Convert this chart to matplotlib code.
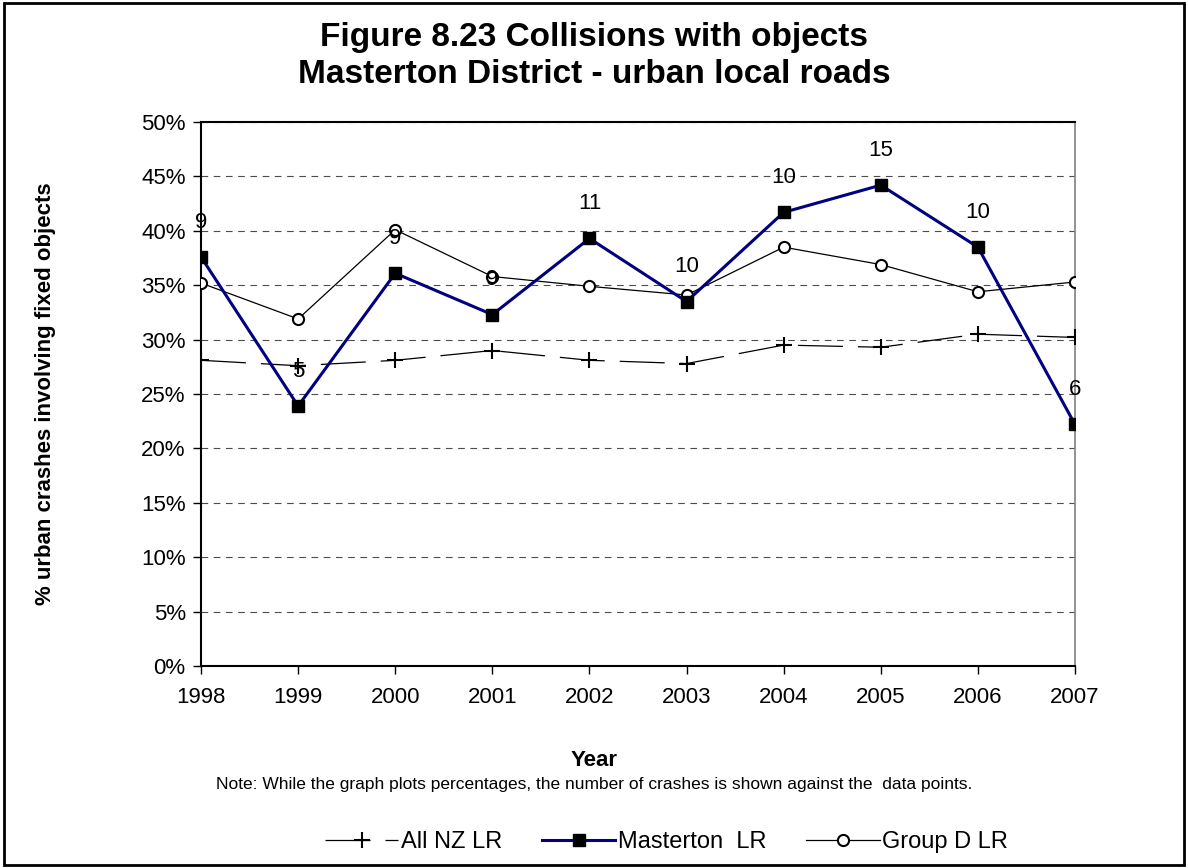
import matplotlib
matplotlib.use("Agg")
import matplotlib.pyplot as plt
from matplotlib.patches import Rectangle
from matplotlib.ticker import FuncFormatter

plt.rcParams['font.family'] = ['Liberation Sans', 'DejaVu Sans']

years = [1998, 1999, 2000, 2001, 2002, 2003, 2004, 2005, 2006, 2007]
all_nz = [28.1, 27.6, 28.1, 29.0, 28.1, 27.8, 29.5, 29.3, 30.5, 30.2]
masterton = [37.6, 23.9, 36.1, 32.3, 39.3, 33.5, 41.7, 44.2, 38.5, 22.2]
group_d = [35.2, 31.9, 40.1, 35.8, 34.9, 34.1, 38.5, 36.9, 34.4, 35.3]
crash_counts = [9, 5, 9, 9, 11, 10, 10, 15, 10, 6]

fig = plt.figure(figsize=(11.88, 8.68), dpi=100)
ax = fig.add_axes([0.1692, 0.2327, 0.7357, 0.6267])

ax.plot(years, all_nz, color='black', lw=0.9, dashes=(36, 12), marker='+',
        markersize=11, markeredgewidth=1.5, label='All NZ LR', zorder=3)
ax.plot(years, masterton, color='#000080', lw=2.2, marker='s', markersize=9,
        markerfacecolor='black', markeredgecolor='black', label='Masterton  LR', zorder=4)
ax.plot(years, group_d, color='black', lw=0.9, marker='o', markersize=8,
        markerfacecolor='white', markeredgecolor='black', markeredgewidth=1.5,
        label='Group D LR', zorder=3)

# crash counts above the Masterton points
for x, y, n in zip(years, masterton, crash_counts):
    ax.annotate(str(n), (x, y), xytext=(0, 25), textcoords='offset points',
                ha='center', va='center', fontsize=16, zorder=5)

ax.set_xlim(years[0], years[-1])
ax.set_ylim(0, 50)
ax.set_yticks(range(0, 51, 5))
ax.yaxis.set_major_formatter(FuncFormatter(lambda v, p: f"{int(v)}%"))
ax.set_xticks(years)
ax.tick_params(axis='both', labelsize=16, length=6, direction='out', width=1)
ax.tick_params(axis='x', pad=9)
ax.tick_params(axis='y', pad=5)
ax.grid(axis='y', color='black', linestyle=(0, (6, 5)), lw=0.8, alpha=0.7)

for s in ['left', 'bottom', 'top']:
    ax.spines[s].set_color('black')
    ax.spines[s].set_linewidth(1.5)
ax.spines['right'].set_color('#808080')
ax.spines['right'].set_linewidth(1.2)

fig.text(0.5, 0.124, 'Year', ha='center', va='center', fontsize=16, fontweight='bold')
fig.text(0.038, 0.546, '% urban crashes involving fixed objects', rotation=90,
         ha='center', va='center', fontsize=16, fontweight='bold')

fig.text(0.5, 0.935, 'Figure 8.23 Collisions with objects\nMasterton District - urban local roads',
         ha='center', va='center', fontsize=24, fontweight='bold', linespacing=1.25)
fig.text(0.5, 0.096, 'Note: While the graph plots percentages, the number of crashes is shown against the  data points.',
         ha='center', va='center', fontsize=12.5)

fig.legend(loc='center', bbox_to_anchor=(0.561, 0.03), ncol=3, frameon=False,
           fontsize=17, handlelength=3.1, columnspacing=1.7, handletextpad=0.1)

fig.patches.append(Rectangle((0.003, 0.003), 0.994, 0.994, transform=fig.transFigure,
                             fill=False, edgecolor='black', lw=2))

fig.savefig('out.png', dpi=100)
